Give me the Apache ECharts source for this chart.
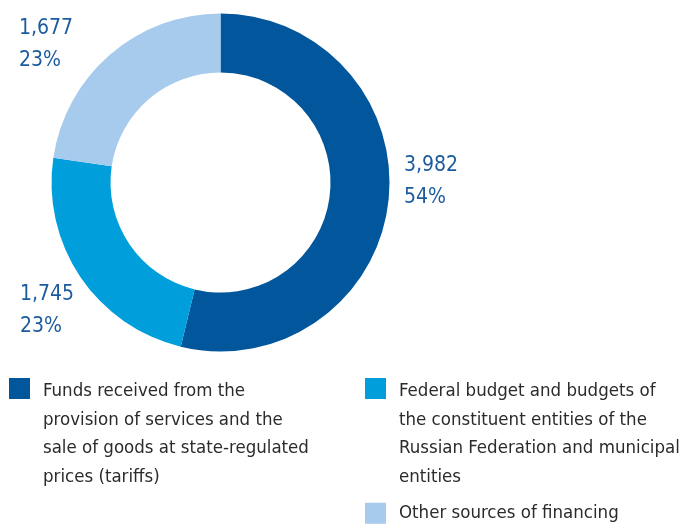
<!DOCTYPE html>
<html>
<head>
<meta charset="utf-8">
<script src="https://cdn.jsdelivr.net/npm/echarts@6/dist/echarts.min.js"></script>
<style>
  html, body { margin: 0; padding: 0; background: #fff; }
  #chart { width: 695px; height: 530px; }
</style>
</head>
<body>
<div id="chart"></div>
<script>
// sources of financing
var names = [
    'Funds received from the provision of services and the sale of goods at state-regulated prices (tariffs)',
    'Federal budget and budgets of the constituent entities of the Russian Federation and municipal entities',
    'Other sources of financing'
];
var legendText = [
    'Funds received from the\nprovision of services and the\nsale of goods at state-regulated\nprices (tariffs)',
    'Federal budget and budgets of\nthe constituent entities of the\nRussian Federation and municipal\nentities',
    'Other sources of financing'
];
var values = [3982, 1745, 1677];
var percents = [54, 23, 23];
var colors = ['#02569b', '#009fdb', '#a6cbec'];

var font = '"DejaVu Sans Condensed", "Liberation Sans Narrow", sans-serif';
var labelPos = [[404, 182], [20, 311], [19, 45]];

var chart = echarts.init(document.getElementById('chart'));

var pieData = [];
for (var i = 0; i < values.length; i++) {
    pieData.push({name: names[i], value: values[i], itemStyle: {color: colors[i]}});
}

// tall icon so multi-line text starts at the square
var tallIcon = 'path://M0,0H21V21H0Z M0,112';

function legendFor(idx, left, top, multi) {
    return {
        left: left,
        top: top,
        orient: 'vertical',
        padding: 0,
        selectedMode: false,
        data: [names[idx]],
        icon: multi ? tallIcon : 'rect',
        itemWidth: 21,
        itemHeight: multi ? 112 : 21,
        itemGap: 0,
        formatter: function () { return legendText[idx]; },
        textStyle: {
            fontFamily: font,
            fontSize: 18.5,
            lineHeight: 28.5,
            color: '#2b2b2b',
            padding: [0, 0, 0, 8]
        }
    };
}

chart.setOption({
    animation: false,
    legend: [
        legendFor(0, 9, 377, true),
        legendFor(1, 365, 377, true),
        legendFor(2, 365, 499, false)
    ],
    series: [{
        type: 'pie',
        center: [220.5, 182.5],
        radius: [110, 169],
        startAngle: 90,
        clockwise: true,
        avoidLabelOverlap: false,
        silent: true,
        labelLine: {show: false},
        label: {
            show: true,
            position: 'outside',
            fontFamily: font,
            fontSize: 21,
            lineHeight: 32,
            color: '#1c5b9d',
            formatter: function (p) {
                return p.value.toLocaleString('en-US') + '\n' + percents[p.dataIndex] + '%';
            }
        },
        labelLayout: function (p) {
            var pos = labelPos[p.dataIndex];
            return {x: pos[0], y: pos[1], align: 'left', verticalAlign: 'middle'};
        },
        data: pieData
    }]
});
</script>
</body>
</html>
